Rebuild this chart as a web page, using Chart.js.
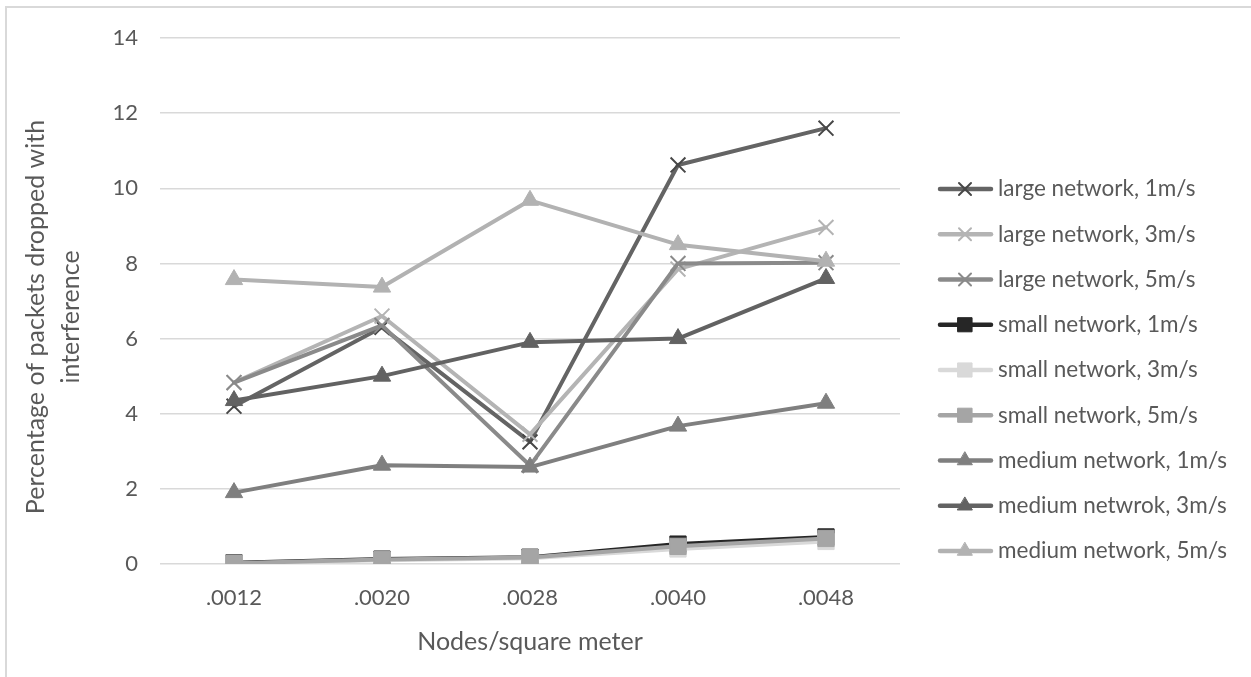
<!DOCTYPE html>
<html>
<head>
<meta charset="utf-8">
<script src="https://cdn.jsdelivr.net/npm/chart.js@4.4.0/dist/chart.umd.min.js"></script>
<style>
  html, body { margin: 0; padding: 0; background: #ffffff; }
  #wrap { position: relative; width: 1251px; height: 677px; overflow: hidden; }
  #frame { position: absolute; left: 5px; top: 6px; width: 1400px; height: 800px;
           border-top: 2px solid #d9d9d9; border-left: 2px solid #d9d9d9; }
  #wrap canvas { position: absolute; left: 0; top: 0; }
</style>
</head>
<body>
<div id="wrap">
  <div id="frame"></div>
  <canvas id="chart" width="1251" height="677"></canvas>
</div>
<script>
// Node density categories (x axis)
const categories = ['.0012', '.0020', '.0028', '.0040', '.0048'];

// Percentage of packets dropped with interference, per scenario
const large1m = [4.2, 6.3, 3.25, 10.62, 11.6];
const large3m = [4.83, 6.6, 3.45, 7.85, 8.96];
const large5m = [4.83, 6.35, 2.62, 8.0, 8.02];
const small1m = [0.03, 0.13, 0.18, 0.53, 0.72];
const small3m = [0.01, 0.1, 0.15, 0.4, 0.6];
const small5m = [0.02, 0.12, 0.17, 0.47, 0.68];
const medium1m = [1.9, 2.63, 2.58, 3.67, 4.28];
const medium3m = [4.35, 5.0, 5.9, 6.0, 7.6];
const medium5m = [7.57, 7.37, 9.68, 8.5, 8.06];

const seriesLabels = [
  'large network, 1m/s', 'large network, 3m/s', 'large network, 5m/s',
  'small network, 1m/s', 'small network, 3m/s', 'small network, 5m/s',
  'medium network, 1m/s', 'medium netwrok, 3m/s', 'medium network, 5m/s'
];
const seriesData = [large1m, large3m, large5m, small1m, small3m, small5m, medium1m, medium3m, medium5m];

// y axis range
const yMin = 0, yMax = 14, yStep = 2;

const xTitle = 'Nodes/square meter';
const yTitle = ['Percentage of packets dropped with', 'interference'];

// ---- styling ----
const FONT = "Lato, 'Open Sans', sans-serif";
const TEXT = '#595959';

const styles = [
  { line: '#646464', point: '#474747', shape: 'crossRot', r: 10.5, lr: 8.5, bw: 2 },
  { line: '#b4b4b4', point: '#b4b4b4', shape: 'crossRot', r: 10.5, lr: 8.5, bw: 2 },
  { line: '#8a8a8a', point: '#8a8a8a', shape: 'crossRot', r: 10.5, lr: 8.5, bw: 2 },
  { line: '#262626', point: '#262626', shape: 'rect',     r: 11.5, lr: 10, bw: 1 },
  { line: '#d9d9d9', point: '#d9d9d9', shape: 'rect',     r: 11.5, lr: 10, bw: 1 },
  { line: '#a5a5a5', point: '#a5a5a5', shape: 'rect',     r: 11.5, lr: 10, bw: 1 },
  { line: '#7f7f7f', point: '#7f7f7f', shape: 'triangle', r: 10,   lr: 8.5, bw: 1 },
  { line: '#626262', point: '#626262', shape: 'triangle', r: 10,   lr: 8.5, bw: 1 },
  { line: '#b2b2b2', point: '#b2b2b2', shape: 'triangle', r: 10,   lr: 8.5, bw: 1 }
];

const datasets = seriesData.map((data, i) => {
  const s = styles[i];
  return {
    label: seriesLabels[i],
    data: data,
    borderColor: s.line,
    backgroundColor: s.point,
    borderWidth: 4,
    borderJoinStyle: 'round',
    borderCapStyle: 'round',
    tension: 0,
    pointStyle: s.shape,
    pointRadius: s.r,
    pointBorderWidth: s.bw,
    pointBackgroundColor: s.point,
    pointBorderColor: s.point,
    legendRadius: s.lr,
    order: -i   // later series paint over earlier ones
  };
});

// Legend drawn at the right: line sample with marker, then the label
const LEGEND = { x0: 940, x1: 991, mx: 965, tx: 998, top: 189, step: 45.25 };
const sideLegend = {
  id: 'sideLegend',
  afterDraw(chart) {
    const ctx = chart.ctx;
    chart.data.datasets.forEach((ds, i) => {
      const y = LEGEND.top + i * LEGEND.step;
      ctx.save();
      ctx.strokeStyle = ds.borderColor;
      ctx.lineWidth = 4.5;
      ctx.lineCap = 'round';
      ctx.beginPath();
      ctx.moveTo(LEGEND.x0, y);
      ctx.lineTo(LEGEND.x1, y);
      ctx.stroke();
      ctx.fillStyle = ds.pointBackgroundColor;
      ctx.strokeStyle = ds.pointBorderColor;
      ctx.lineWidth = ds.pointBorderWidth;
      Chart.helpers.drawPoint(ctx, {
        pointStyle: ds.pointStyle, radius: ds.legendRadius, rotation: 0, borderWidth: ds.pointBorderWidth
      }, LEGEND.mx, y);
      ctx.fillStyle = TEXT;
      ctx.font = '22.5px ' + FONT;
      ctx.textAlign = 'left';
      ctx.textBaseline = 'middle';
      ctx.fillText(ds.label, LEGEND.tx, y);
      ctx.restore();
    });
  }
};

// Two-line rotated title for the value axis, set a little below the plot's middle
const Y_TITLE = { x: 36, y: 317, size: 25, lineGap: 35 };
const valueAxisTitle = {
  id: 'valueAxisTitle',
  afterDraw(chart) {
    const ctx = chart.ctx;
    ctx.save();
    ctx.translate(Y_TITLE.x, Y_TITLE.y);
    ctx.rotate(-Math.PI / 2);
    ctx.fillStyle = TEXT;
    ctx.font = Y_TITLE.size + 'px ' + FONT;
    ctx.textAlign = 'center';
    ctx.textBaseline = 'middle';
    yTitle.forEach((line, k) => ctx.fillText(line, 0, k * Y_TITLE.lineGap));
    ctx.restore();
  }
};

new Chart(document.getElementById('chart'), {
  type: 'line',
  data: { labels: categories, datasets: datasets },
  plugins: [sideLegend, valueAxisTitle],
  options: {
    responsive: false,
    animation: false,
    events: [],
    layout: { padding: { top: 38, right: 351, bottom: 0, left: 0 } },
    plugins: {
      legend: { display: false },
      tooltip: { enabled: false }
    },
    scales: {
      x: {
        offset: true,
        grid: { display: false, drawTicks: false },
        border: { display: false },
        ticks: { color: TEXT, font: { family: FONT, size: 22 }, padding: 21 },
        title: {
          display: true, text: xTitle, color: TEXT,
          font: { family: FONT, size: 25 }, padding: { top: 0, bottom: 20 }
        },
        afterFit(scale) { scale.height = 113; }
      },
      y: {
        min: yMin, max: yMax,
        grid: { color: '#d9d9d9', lineWidth: 1.5, drawTicks: false },
        border: { display: false },
        ticks: { stepSize: yStep, color: TEXT, font: { family: FONT, size: 22 }, padding: 22 },
        afterFit(scale) { scale.width = 160; }
      }
    }
  }
});
</script>
</body>
</html>
